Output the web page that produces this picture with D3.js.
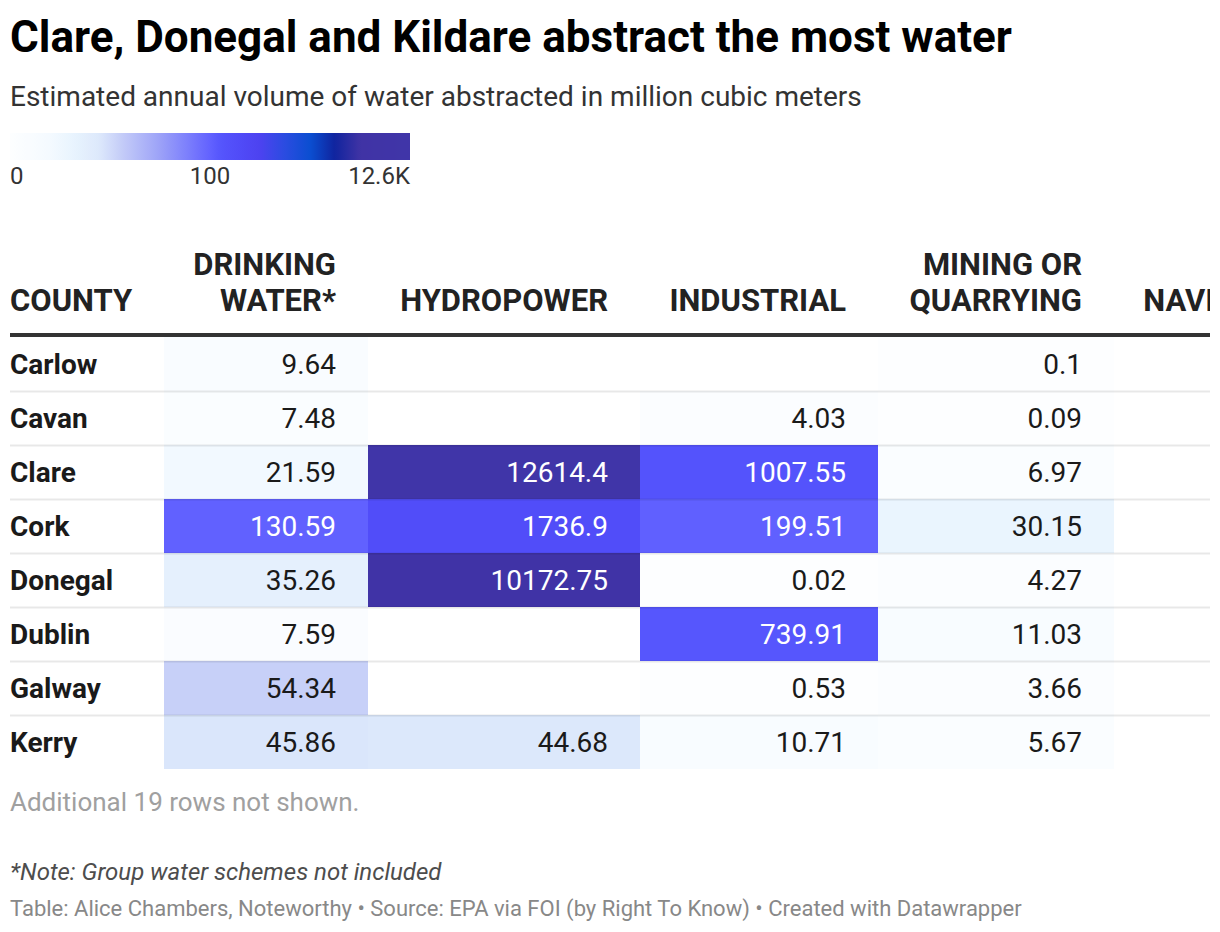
<!DOCTYPE html>
<html>
<head>
<meta charset="utf-8">
<script src="https://cdn.jsdelivr.net/npm/d3@7"></script>
<style>
  html, body { margin: 0; padding: 0; background: #fff; }
  svg { display: block; font-family: Roboto, "Noto Sans", sans-serif; }
</style>
</head>
<body>
<svg id="chart" width="1220" height="932"></svg>
<script>
// ---------------- DATA ----------------
const title = "Clare, Donegal and Kildare abstract the most water";
const subtitle = "Estimated annual volume of water abstracted in million cubic meters";
const counties = ["Carlow", "Cavan", "Clare", "Cork", "Donegal", "Dublin", "Galway", "Kerry"];
const headers = ["COUNTY", "DRINKING\nWATER*", "HYDROPOWER", "INDUSTRIAL", "MINING OR\nQUARRYING", "NAVIGATION"];
const drinkingWater = [9.64, 7.48, 21.59, 130.59, 35.26, 7.59, 54.34, 45.86];
const hydropower    = [null, null, 12614.4, 1736.9, 10172.75, null, null, 44.68];
const industrial    = [null, 4.03, 1007.55, 199.51, 0.02, 739.91, 0.53, 10.71];
const mining        = [0.1, 0.09, 6.97, 30.15, 4.27, 11.03, 3.66, 5.67];
const navigation    = [null, null, null, null, null, null, null, null];
const legendTicks = [0, 100, 12600];
const legendTickLabels = ["0", "100", "12.6K"];
const hiddenRowsNote = "Additional 19 rows not shown.";
const footNote = "*Note: Group water schemes not included";
const credits = "Table: Alice Chambers, Noteworthy \u2022 Source: EPA via FOI (by Right To Know) \u2022 Created with Datawrapper";

// ---------------- STYLE / LAYOUT ----------------
const series = [drinkingWater, hydropower, industrial, mining, navigation];
const colEdges = [10, 164, 368, 640, 878, 1114, 1358];
const cellPadRight = 32;
const rowTop = 337, rowH = 54;
const clipRight = 1210;

const colorScale = d3.scaleLinear()
  .domain([0, 20, 30, 45, 55, 75, 100, 700, 1700, 3200, 4800, 6400, 7900, 9500, 12600])
  .range(["#fdfeff", "#f4faff", "#eaf5fe", "#dce8fb", "#c6cef8", "#9ca2f8", "#6262ff",
          "#5656fd", "#514df9", "#4d42f0", "#2a4ce0", "#0a4ed0", "#10249e", "#4033a5", "#4035a8"])
  .interpolate(d3.interpolateRgb)
  .clamp(true);

const svg = d3.select("#chart");

// Title & subtitle
svg.append("text").attr("x", 10).attr("y", 52)
  .attr("font-size", 44).attr("font-weight", 700).attr("fill", "#000")
  .text(title);
svg.append("text").attr("x", 10).attr("y", 106)
  .attr("font-size", 28).attr("fill", "#333")
  .text(subtitle);

// Legend
const legendX = d3.scaleLinear().domain(legendTicks).range([10, 210, 410]);
const defs = svg.append("defs");
const grad = defs.append("linearGradient").attr("id", "lg")
  .attr("x1", "0%").attr("x2", "100%").attr("y1", "0%").attr("y2", "0%");
d3.range(0, 101).forEach(i => {
  const px = 10 + 400 * i / 100;
  grad.append("stop").attr("offset", i + "%")
    .attr("stop-color", colorScale(legendX.invert(px)));
});
svg.append("rect").attr("x", 10).attr("y", 133).attr("width", 400).attr("height", 27)
  .attr("fill", "url(#lg)");
svg.selectAll("text.lt").data(legendTicks).join("text").attr("class", "lt")
  .attr("x", d => legendX(d))
  .attr("y", 184)
  .attr("font-size", 24).attr("fill", "#333")
  .attr("text-anchor", (d, i) => i === 0 ? "start" : (i === legendTicks.length - 1 ? "end" : "middle"))
  .text((d, i) => legendTickLabels[i]);

// Table
defs.append("clipPath").attr("id", "tclip")
  .append("rect").attr("x", 0).attr("y", 200).attr("width", clipRight).attr("height", 600);
const table = svg.append("g").attr("clip-path", "url(#tclip)");

const y = d3.scaleBand().domain(counties).range([rowTop, rowTop + rowH * counties.length]).padding(0);

// headers
headers.forEach((h, ci) => {
  const lines = h.split("\n");
  const t = table.append("text")
    .attr("font-size", 31).attr("font-weight", 700).attr("fill", "#222")
    .attr("text-anchor", ci === 0 ? "start" : "end");
  const x = ci === 0 ? colEdges[0] : colEdges[ci + 1] - cellPadRight;
  lines.forEach((ln, li) => {
    t.append("tspan").attr("x", x)
      .attr("y", 311 - (lines.length - 1 - li) * 36)
      .text(ln);
  });
});

// cells
const cells = [];
series.forEach((vals, si) => {
  vals.forEach((v, ri) => {
    if (v !== null) cells.push({ col: si + 1, county: counties[ri], value: v });
  });
});

table.selectAll("rect.cell").data(cells).join("rect").attr("class", "cell")
  .attr("x", d => colEdges[d.col])
  .attr("width", d => colEdges[d.col + 1] - colEdges[d.col])
  .attr("y", d => y(d.county))
  .attr("height", y.bandwidth())
  .attr("fill", d => colorScale(d.value));

// row separators
table.selectAll("line.sep").data(counties.slice(0, -1)).join("line").attr("class", "sep")
  .attr("x1", 10).attr("x2", clipRight)
  .attr("y1", d => y(d) + y.bandwidth() + 0.5)
  .attr("y2", d => y(d) + y.bandwidth() + 0.5)
  .attr("stroke", "rgba(0,0,0,0.09)").attr("stroke-width", 2);

// header rule
table.append("line").attr("x1", 10).attr("x2", clipRight)
  .attr("y1", rowTop - 2).attr("y2", rowTop - 2)
  .attr("stroke", "#333").attr("stroke-width", 4);

// county names
table.selectAll("text.county").data(counties).join("text").attr("class", "county")
  .attr("x", colEdges[0])
  .attr("y", d => y(d) + y.bandwidth() / 2 + 10)
  .attr("font-size", 28).attr("font-weight", 700).attr("fill", "#1a1a1a")
  .text(d => d);

// values
function isDark(c) {
  const rgb = d3.rgb(c);
  const lum = 0.2126 * rgb.r + 0.7152 * rgb.g + 0.0722 * rgb.b;
  return lum < 150;
}
table.selectAll("text.val").data(cells).join("text").attr("class", "val")
  .attr("x", d => colEdges[d.col + 1] - cellPadRight)
  .attr("y", d => y(d.county) + y.bandwidth() / 2 + 10)
  .attr("text-anchor", "end")
  .attr("font-size", 28)
  .attr("fill", d => isDark(colorScale(d.value)) ? "#fff" : "#1a1a1a")
  .text(d => String(d.value));

// Footer
svg.append("text").attr("x", 10).attr("y", 811)
  .attr("font-size", 26).attr("fill", "#a0a0a0").text(hiddenRowsNote);
svg.append("text").attr("x", 10).attr("y", 880)
  .attr("font-size", 24).attr("font-style", "italic").attr("fill", "#4d4d4d").text(footNote);
svg.append("text").attr("x", 10).attr("y", 916)
  .attr("font-size", 22).attr("fill", "#888").text(credits);
</script>
</body>
</html>
